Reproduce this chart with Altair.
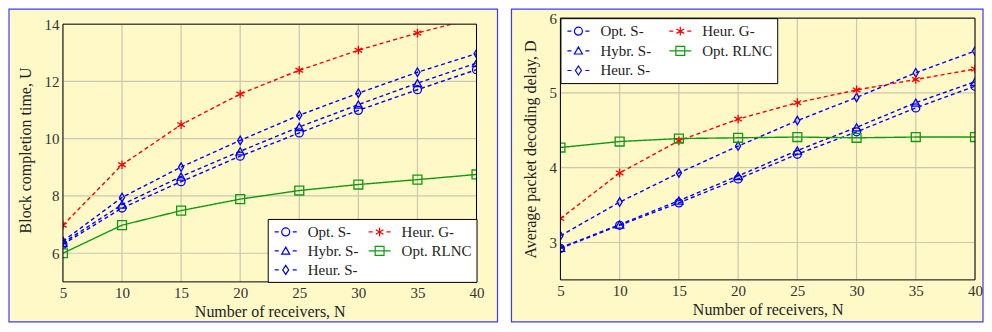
import altair as alt
import pandas as pd

# ---------------- data ----------------
N = [5, 10, 15, 20, 25, 30, 35, 40]
# legend order (column-major fill of a 2-column legend)
SERIES = ["Opt. S-", "Hybr. S-", "Heur. S-", "Heur. G-", "Opt. RLNC"]

# Left panel: block completion time U
L_OPT_S = [6.31, 7.58, 8.50, 9.39, 10.20, 10.99, 11.71, 12.41]
L_HYBR_S = [6.36, 7.70, 8.68, 9.56, 10.41, 11.19, 11.94, 12.64]
L_HEUR_S = [6.42, 7.95, 9.01, 9.94, 10.82, 11.59, 12.32, 12.97]
L_HEUR_G = [6.98, 9.09, 10.49, 11.56, 12.39, 13.09, 13.69, 14.22]
L_RLNC = [6.00, 6.98, 7.49, 7.89, 8.19, 8.40, 8.57, 8.75]

# Right panel: average packet decoding delay D
R_OPT_S = [2.92, 3.23, 3.53, 3.85, 4.18, 4.48, 4.80, 5.09]
R_HYBR_S = [2.93, 3.24, 3.56, 3.89, 4.23, 4.54, 4.87, 5.15]
R_HEUR_S = [3.09, 3.54, 3.93, 4.29, 4.63, 4.94, 5.27, 5.56]
R_HEUR_G = [3.32, 3.93, 4.36, 4.65, 4.87, 5.04, 5.18, 5.32]
R_RLNC = [4.27, 4.35, 4.39, 4.40, 4.41, 4.40, 4.41, 4.41]

L_Y_TICKS = [6, 8, 10, 12, 14]
R_Y_TICKS = [3, 4, 5, 6]

# ---------------- styles ----------------
FONT = "Liberation Serif"
YELLOW = "#fff9c8"
BORDER = "#3b3bff"
GRID = "#cbc7b0"
COLORS = ["#0000ff", "#0000ff", "#0000ff", "#ff0000", "#129912"]
DASHES = [[4, 3], [4, 3], [4, 3], [4, 3], [1, 0]]
ASTER = "M0,-1L0,1M-0.87,-0.5L0.87,0.5M-0.87,0.5L0.87,-0.5"
DIAM = "M0,-1L0.6,0L0,1L-0.6,0Z"
SHAPES = ["circle", "triangle-up", DIAM, ASTER, "square"]
SIZES = [64, 80, 100, 90, 90]
# legend glyphs: dash - marker - dash (unit = 8 px, marker centred at x=0.625)
_D = "M-0.75,0L-0.25,0M1.5,0L2,0"
LEG_SHAPES = [
    _D + "M1.125,0A0.5,0.5,0,1,1,0.125,0A0.5,0.5,0,1,1,1.125,0",
    _D + "M0.625,-0.47L1.125,0.4L0.125,0.4Z",
    _D + "M0.625,-0.56L1,0L0.625,0.56L0.25,0Z",
    _D + "M0.625,-0.56L0.625,0.56M0.14,-0.28L1.11,0.28M0.14,0.28L1.11,-0.28",
    "M-0.75,0L2,0M0.07,-0.56L1.18,-0.56L1.18,0.56L0.07,0.56Z",
]


def long_df(series_values):
    rows = []
    for s, vals in zip(SERIES, series_values):
        for n, v in zip(N, vals):
            rows.append({"N": n, "val": v, "series": s})
    return pd.DataFrame(rows)


def panel(df, W, H, E, ydom, yticks, ytitle, orient, box, colpad, rowpad):
    # E: empty band (px) at the top of the view above the plot frame
    xs = alt.Scale(domain=[5, 40], nice=False, zero=False)
    ys = alt.Scale(domain=ydom, nice=False, zero=False)
    xax = alt.Axis(values=N, title="Number of receivers, N", labelPadding=4,
                   titlePadding=3, zindex=1, labelFlush=False)
    yax = alt.Axis(values=yticks, title=ytitle, labelPadding=4, titlePadding=10,
                   zindex=1, labelFlush=False)
    one = pd.DataFrame({"k": [0]})
    bg = alt.Chart(one).mark_rect(fill=YELLOW, stroke=BORDER, strokeWidth=1.2).encode(
        x=alt.value(box[0]), x2=alt.value(W + box[1]),
        y=alt.value(box[2]), y2=alt.value(H + box[3]))
    vgrid = alt.Chart(pd.DataFrame({"N": N})).mark_rule(color=GRID, strokeWidth=1.2).encode(
        x=alt.X("N:Q", scale=xs, axis=xax), y=alt.value(E), y2=alt.value(H))
    hgrid = alt.Chart(pd.DataFrame({"val": yticks})).mark_rule(color=GRID, strokeWidth=1.2).encode(
        y=alt.Y("val:Q", scale=ys, axis=yax), x=alt.value(0), x2=alt.value(W))
    lines = alt.Chart(df).mark_line(strokeWidth=1.4, clip=True).encode(
        x=alt.X("N:Q", scale=xs, axis=xax),
        y=alt.Y("val:Q", scale=ys, axis=yax),
        color=alt.Color("series:N", scale=alt.Scale(domain=SERIES, range=COLORS), legend=None),
        strokeDash=alt.StrokeDash("series:N", scale=alt.Scale(domain=SERIES, range=DASHES), legend=None),
    )
    pts = alt.Chart(df).mark_point(filled=False, strokeWidth=1.3, clip=True, opacity=1).encode(
        x=alt.X("N:Q", scale=xs, axis=xax),
        y=alt.Y("val:Q", scale=ys, axis=yax),
        color=alt.Color("series:N", scale=alt.Scale(domain=SERIES, range=COLORS), legend=None),
        shape=alt.Shape("series:N", scale=alt.Scale(domain=SERIES, range=SHAPES), legend=None),
        size=alt.Size("series:N", scale=alt.Scale(domain=SERIES, range=SIZES), legend=None),
    )
    layers = [bg, vgrid, hgrid, lines, pts]
    if E > 0:
        cover = alt.Chart(one).mark_rect(fill=YELLOW).encode(
            x=alt.value(-1), x2=alt.value(W + 1), y=alt.value(-1), y2=alt.value(E))
        layers.append(cover)
    leg_common = dict(
        title=None, orient=orient, columns=2, fillColor="white", strokeColor="black",
        padding=4, offset=0, labelFont=FONT, labelFontSize=15, labelColor="#222",
        symbolSize=256, symbolStrokeWidth=1.2, rowPadding=rowpad, columnPadding=colpad,
        labelOffset=18, zindex=2,
    )
    leg = alt.Chart(df).transform_filter("false").mark_point(filled=False, strokeWidth=1.2, opacity=1).encode(
        color=alt.Color("series:N", scale=alt.Scale(domain=SERIES, range=COLORS),
                        legend=alt.Legend(**leg_common)),
        shape=alt.Shape("series:N", scale=alt.Scale(domain=SERIES, range=LEG_SHAPES),
                        legend=alt.Legend(**leg_common)),
    )
    frame = alt.Chart(one).mark_rect(fillOpacity=0, stroke="black", strokeWidth=1).encode(
        x=alt.value(0), x2=alt.value(W), y=alt.value(E), y2=alt.value(H))
    layers += [leg, frame]
    return alt.layer(*layers).resolve_scale(
        color="independent", shape="independent").properties(width=W, height=H)


# left view has a 6 px band on top so that its frame sits 6 px lower than the right one
L_E = 6
L_H = 264
L_TOP = 14 + L_E * (14 - 5) / (L_H - L_E)

left = panel(long_df([L_OPT_S, L_HYBR_S, L_HEUR_S, L_HEUR_G, L_RLNC]),
             414, L_H, L_E, [5, L_TOP], L_Y_TICKS, "Block completion time, U",
             "bottom-right", (-54, 21, -9, 40), 7, 2)
right = panel(long_df([R_OPT_S, R_HYBR_S, R_HEUR_S, R_HEUR_G, R_RLNC]),
              415, 262, 0, [2.5, 6], R_Y_TICKS, "Average packet decoding delay, D",
              "top-left", (-49, 8, -9, 42), 15, 2.7)

chart = alt.hconcat(left, right, spacing=84, bounds="flush").properties(
    padding=0, background="white"
).configure_axis(
    labelFont=FONT, labelFontSize=15, labelColor="#333",
    titleFont=FONT, titleFontSize=16, titleFontWeight="normal", titleColor="#222",
    ticks=False, domain=False, grid=False,
).configure_view(stroke=None).configure_legend(strokeWidth=1)

chart.save("out.html", embed_options={"renderer": "svg", "actions": False})
